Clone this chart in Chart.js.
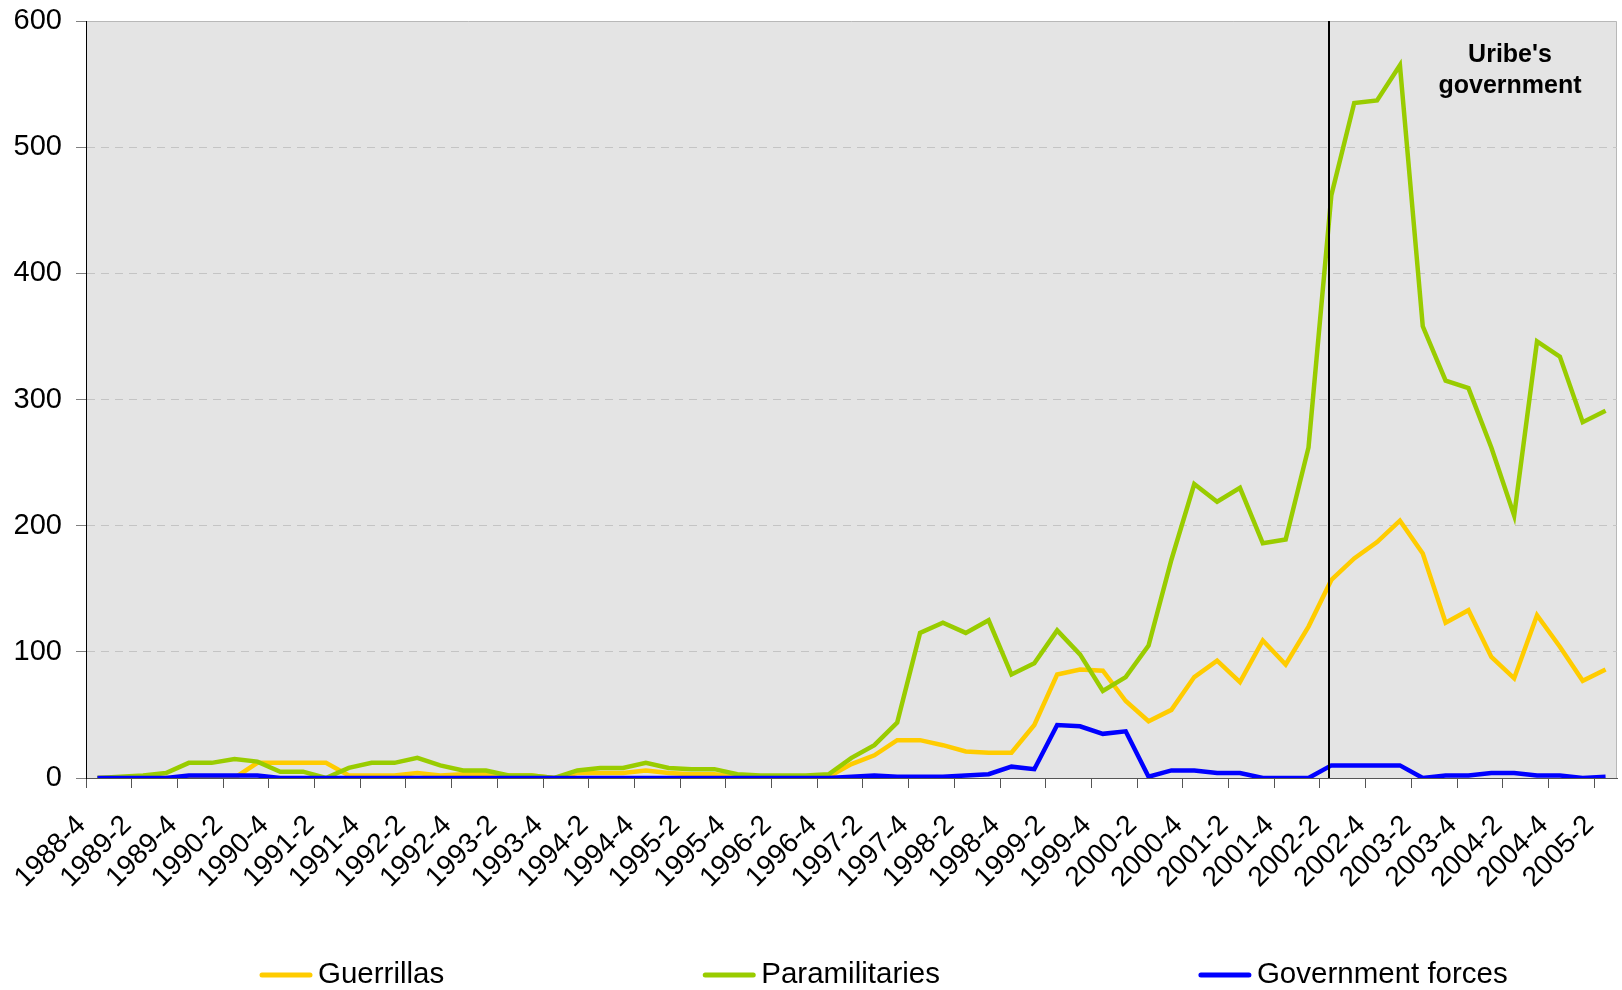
<!DOCTYPE html>
<html>
<head>
<meta charset="utf-8">
<script src="https://cdn.jsdelivr.net/npm/chart.js@4.4.0/dist/chart.umd.min.js"></script>
<style>
  html, body { margin: 0; padding: 0; background: #fff; }
</style>
</head>
<body>
<canvas id="chart" width="1622" height="990"></canvas>
<script>
// Quarters, 1988-4 .. 2005-2
const labels = [
    '1988-4',
    '1989-1', '1989-2', '1989-3', '1989-4',
    '1990-1', '1990-2', '1990-3', '1990-4',
    '1991-1', '1991-2', '1991-3', '1991-4',
    '1992-1', '1992-2', '1992-3', '1992-4',
    '1993-1', '1993-2', '1993-3', '1993-4',
    '1994-1', '1994-2', '1994-3', '1994-4',
    '1995-1', '1995-2', '1995-3', '1995-4',
    '1996-1', '1996-2', '1996-3', '1996-4',
    '1997-1', '1997-2', '1997-3', '1997-4',
    '1998-1', '1998-2', '1998-3', '1998-4',
    '1999-1', '1999-2', '1999-3', '1999-4',
    '2000-1', '2000-2', '2000-3', '2000-4',
    '2001-1', '2001-2', '2001-3', '2001-4',
    '2002-1', '2002-2', '2002-3', '2002-4',
    '2003-1', '2003-2', '2003-3', '2003-4',
    '2004-1', '2004-2', '2004-3', '2004-4',
    '2005-1', '2005-2'
];

const guerrillas = [
    0, 0, 0, 0, 0, 0, 0, 12, 12, 12,
    12, 2, 2, 2, 4, 2, 3, 3, 2, 2,
    0, 4, 4, 4, 6, 4, 3, 3, 1, 0,
    0, 0, 1, 11, 18, 30, 30, 26, 21, 20,
    20, 42, 82, 86, 85, 61, 45, 54, 80, 93,
    76, 109, 90, 120, 157, 174, 187, 204, 178, 123,
    133, 96, 79, 129, 104, 77, 86
];

const paramilitaries = [
    0, 1, 2, 4, 12, 12, 15, 13, 5, 5,
    0, 8, 12, 12, 16, 10, 6, 6, 2, 2,
    0, 6, 8, 8, 12, 8, 7, 7, 3, 2,
    2, 2, 3, 16, 26, 44, 115, 123, 115, 125,
    82, 91, 117, 98, 69, 80, 105, 173, 233, 219,
    230, 186, 189, 262, 462, 535, 537, 565, 358, 315,
    309, 262, 208, 346, 334, 282, 291
];

const governmentForces = [
    0, 0, 0, 0, 2, 2, 2, 2, 0, 0,
    0, 0, 0, 0, 0, 0, 0, 0, 0, 0,
    0, 0, 0, 0, 0, 0, 0, 0, 0, 0,
    0, 0, 0, 1, 2, 1, 1, 1, 2, 3,
    9, 7, 42, 41, 35, 37, 1, 6, 6, 4,
    4, 0, 0, 0, 10, 10, 10, 10, 0, 2,
    2, 4, 4, 2, 2, 0, 1
];

const yTicks = [0, 100, 200, 300, 400, 500, 600];
const uribeStart = '2002-2';

const FONT = '"Liberation Sans", Arial, Helvetica, sans-serif';

// fondo gris del área de trazado + borde superior/derecho
const plotBackground = {
    id: 'plotBackground',
    beforeDraw(chart) {
        const {ctx, chartArea: a} = chart;
        ctx.save();
        ctx.fillStyle = '#e4e4e4';
        ctx.fillRect(a.left, a.top, a.right - a.left, a.bottom - a.top);
        ctx.strokeStyle = '#b8b8b8';
        ctx.lineWidth = 1;
        ctx.beginPath();
        ctx.moveTo(a.left, a.top + 0.5);
        ctx.lineTo(a.right - 0.5, a.top + 0.5);
        ctx.lineTo(a.right - 0.5, a.bottom);
        ctx.stroke();
        ctx.restore();
    }
};

// línea vertical y texto "Uribe's government"
const uribeMarker = {
    id: 'uribeMarker',
    afterDatasetsDraw(chart) {
        const {ctx, chartArea: a, scales: {x}} = chart;
        const px = Math.round(x.getPixelForValue(labels.indexOf(uribeStart))) - 2;
        ctx.save();
        ctx.strokeStyle = '#000';
        ctx.lineWidth = 2;
        ctx.beginPath();
        ctx.moveTo(px, a.top);
        ctx.lineTo(px, a.bottom);
        ctx.stroke();
        ctx.font = 'bold 25px ' + FONT;
        ctx.fillStyle = '#000';
        ctx.textAlign = 'center';
        ctx.textBaseline = 'middle';
        ctx.fillText("Uribe's", 1510, 55);
        ctx.fillText('government', 1510, 86);
        ctx.restore();
    }
};

// leyenda inferior con mucho espacio entre elementos
const bottomLegend = {
    id: 'bottomLegend',
    afterDraw(chart) {
        const ctx = chart.ctx;
        ctx.save();
        ctx.font = '29.5px ' + FONT;
        ctx.textBaseline = 'middle';
        let x = 260;
        const y = 975;
        chart.data.datasets.forEach(ds => {
            ctx.strokeStyle = ds.borderColor;
            ctx.lineWidth = 5;
            ctx.lineCap = 'round';
            ctx.beginPath();
            ctx.moveTo(x + 2, y);
            ctx.lineTo(x + 50, y);
            ctx.stroke();
            ctx.fillStyle = '#000';
            ctx.fillText(ds.label, x + 58, y);
            x += 58 + ctx.measureText(ds.label).width + 259;
        });
        ctx.restore();
    }
};

const ctx = document.getElementById('chart').getContext('2d');
const chart = new Chart(ctx, {
    type: 'line',
    data: {
        labels: labels,
        datasets: [{
            label: 'Guerrillas',
            data: guerrillas,
            borderColor: '#ffcc00',
            backgroundColor: '#ffcc00',
            borderWidth: 4.5,
            pointRadius: 0,
            tension: 0,
            order: 3
        }, {
            label: 'Paramilitaries',
            data: paramilitaries,
            borderColor: '#99cc00',
            backgroundColor: '#99cc00',
            borderWidth: 4.5,
            pointRadius: 0,
            tension: 0,
            order: 2
        }, {
            label: 'Government forces',
            data: governmentForces,
            borderColor: '#0000ff',
            backgroundColor: '#0000ff',
            borderWidth: 4.5,
            pointRadius: 0,
            tension: 0,
            order: 1
        }]
    },
    options: {
        responsive: false,
        animation: false,
        layout: {
            padding: { left: 0, right: 5, top: 21, bottom: 0 }
        },
        scales: {
            x: {
                offset: true,
                afterFit: scale => {
                    scale.height = 212;
                    scale.paddingLeft = 0;
                    scale.paddingRight = 0;
                },
                grid: {
                    offset: true,
                    drawOnChartArea: false,
                    drawTicks: true,
                    tickLength: 10,
                    tickColor: c => (c.index % 2 === 0 ? '#555' : 'transparent')
                },
                border: { color: '#555', width: 1 },
                ticks: {
                    autoSkip: false,
                    minRotation: 45,
                    maxRotation: 45,
                    padding: 21,
                    labelOffset: -16,
                    color: '#000',
                    font: { family: FONT, size: 28 },
                    callback: (v, i) => (i % 2 === 0 ? labels[i] : '')
                }
            },
            y: {
                min: yTicks[0],
                max: yTicks[yTicks.length - 1],
                afterFit: scale => {
                    scale.width = 86;
                    scale.paddingTop = 0;
                    scale.paddingBottom = 0;
                },
                afterBuildTicks: scale => { scale.ticks = yTicks.map(v => ({ value: v })); },
                grid: {
                    color: c => (c.tick && c.tick.value > 0 && c.tick.value < 600 ? '#c4c4c4' : 'transparent'),
                    tickColor: '#808080',
                    tickLength: 10,
                    lineWidth: 1
                },
                border: { color: '#000', width: 1, dash: [8, 6] },
                ticks: {
                    padding: 14,
                    color: '#000',
                    font: { family: FONT, size: 29 }
                }
            }
        },
        plugins: {
            legend: { display: false },
            tooltip: { enabled: false }
        }
    },
    plugins: [plotBackground, uribeMarker, bottomLegend]
});
</script>
</body>
</html>
